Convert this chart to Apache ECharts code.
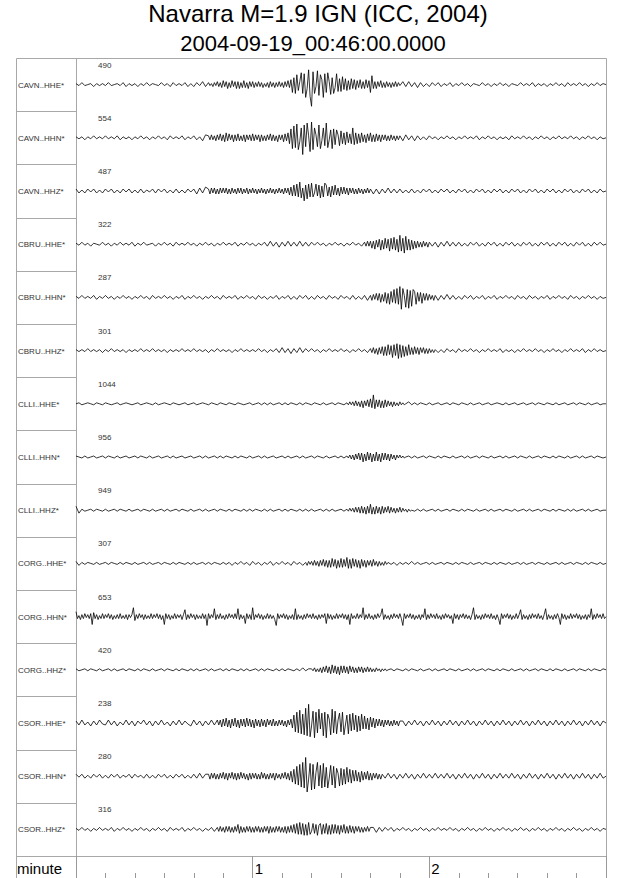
<!DOCTYPE html>
<html><head><meta charset="utf-8">
<script src="https://cdn.jsdelivr.net/npm/echarts@6/dist/echarts.min.js"></script>
<style>html,body{margin:0;padding:0;background:#fff}#c{width:640px;height:878px}</style>
</head><body><div id="c"></div>
<script>
const titleLine1 = 'Navarra M=1.9 IGN (ICC, 2004)';
const titleLine2 = '2004-09-19_00:46:00.0000';
const stations = ['CAVN..HHE*','CAVN..HHN*','CAVN..HHZ*','CBRU..HHE*','CBRU..HHN*','CBRU..HHZ*','CLLI..HHE*','CLLI..HHN*','CLLI..HHZ*','CORG..HHE*','CORG..HHN*','CORG..HHZ*','CSOR..HHE*','CSOR..HHN*','CSOR..HHZ*'];
const peakCounts = [490,554,487,322,287,301,1044,956,949,307,653,420,238,280,316];
const timeAxisName = 'minute';
const durationSec = 180;
const minuteLabels = [1,2];

// base traces: display amplitude, one sample per second over 0..180 s
const cavnHHE = [
1,-1,2,-1,0,1,-2,1,-1,1, -1,2,-1,0,1,-1,2,-2,1,-1, 1,-2,1,-1,2,-1,1,0,-1,2,
-1,1,-2,2,-1,1,-1,2,-2,1, -2,2,-1,3,-2,1,-3,2,-2,3, -3,4,-2,3,-4,3,-2,4,-3,2,
-3,2,-2,3,-2,2,-3,3,-2,2, -3,3,-4,6,-9,10,-7,12,-11,15, -22,14,-12,11,-10,13,-9,10,-12,8,
-9,11,-6,7,-5,6,-5,4,-6,5, -4,9,-7,4,-4,3,-4,3,-3,2, -3,3,-2,3,-2,2,-3,2,-2,1,
-2,2,-1,2,-2,1,-1,2,-2,1, -1,2,-1,1,-2,1,0,-1,2,-1, 1,-2,1,-1,2,-1,1,-2,1,0,
-1,2,-1,1,-1,2,-2,1,-1,1, -2,1,-1,2,-1,1,-2,2,-1,1, -1,2,-1,1,-2,1,-1,2,-1,1,0];
const cavnHHN = [
1,-1,1,-2,1,-1,2,-1,1,-1, 2,-1,1,-1,2,-2,1,-1,1,-2, 1,-1,2,-1,1,-2,1,-1,2,-1,
1,-2,2,-1,1,-1,2,-2,1,-1, 2,-2,1,-3,3,-2,4,-3,2,-4, 3,-4,5,-3,4,-3,3,-4,2,-3,
4,-3,2,-4,3,-3,4,-2,3,-3, 4,-3,3,-5,9,-12,14,-17,12,-10, 16,-11,9,-13,10,-9,15,-10,8,-9,
7,-8,6,-5,9,-7,5,-6,4,-5, 6,-4,5,-3,4,-4,3,-4,3,-3, 2,-3,3,-2,2,-3,2,-2,1,-2,
2,-1,1,-2,1,-1,2,-1,1,-2, 1,-1,2,-1,1,-1,2,-2,1,-1, 2,-1,1,-2,1,-1,1,-2,2,-1,
1,-1,2,-1,1,-2,1,-1,2,-1, 1,-2,1,-1,2,-1,1,-1,2,-1, 1,-2,1,-1,2,-1,1,-2,1,-1,0];
const cavnHHZ = [
2,-2,1,-2,2,-1,2,-2,1,-2, 2,-1,2,-2,1,-2,2,-1,2,-2, 1,-2,2,-2,1,-1,2,-2,2,-1,
2,-2,1,-2,2,-2,1,-2,2,-1, 2,-3,3,-2,4,-3,3,-4,2,-3, 3,-2,3,-3,2,-3,3,-2,3,-2,
2,-3,3,-2,3,-2,2,-3,2,-3, 3,-2,3,-4,6,-8,9,-10,6,-7, 8,-6,7,-8,5,-6,8,-5,6,-5,
5,-4,4,-3,4,-3,3,-4,3,-2, 3,-3,2,-3,2,-2,3,-2,2,-2, 2,-2,1,-2,2,-2,1,-2,2,-1,
2,-2,1,-2,2,-1,2,-2,1,-2, 2,-1,2,-2,1,-2,2,-1,2,-2, 1,-2,2,-1,2,-2,1,-2,2,-1,
2,-2,1,-2,2,-1,2,-2,1,-2, 2,-1,2,-2,1,-2,2,-1,2,-2, 1,-2,2,-1,2,-2,1,-2,2,-1,0];
const cbruHHE = [
1,-1,2,-1,1,-2,1,0,-1,2, -1,1,-2,1,-1,2,-1,1,-1,2, -2,1,-1,2,-1,0,1,-2,1,-1,
2,-1,1,-2,2,-1,1,-1,2,-1, 1,-2,1,-1,2,-1,1,-2,1,-1, 2,-1,1,-1,2,-2,1,-1,2,-1,
1,-2,1,-1,2,-2,3,-2,2,-3, 2,-2,3,-2,2,-2,3,-2,2,-2, 2,-1,2,-1,1,-2,1,-1,2,-1,
1,-2,1,-1,2,-1,1,-2,2,-1, 2,-3,4,-5,3,-6,5,-4,7,-5, 8,-9,6,-8,5,-4,3,-4,3,-2,
3,-2,2,-3,2,-2,3,-2,2,-2, 2,-2,1,-2,2,-1,2,-2,1,-2, 2,-1,2,-2,1,-2,2,-1,2,-2,
1,-2,2,-1,2,-2,1,-2,2,-1, 2,-2,1,-2,2,-1,2,-2,1,-2, 2,-1,2,-2,1,-2,2,-1,2,-1,0];
const cbruHHN = [
1,-1,2,-1,1,-1,2,-2,1,-1, 2,-1,1,-2,1,-1,2,-1,1,-2, 1,-1,2,-1,1,-2,2,-1,1,-1,
2,-1,1,-2,1,-1,2,-2,1,-1, 2,-1,1,-2,1,-1,2,-1,1,-2, 2,-1,1,-1,2,-2,1,-1,2,-1,
1,-2,2,-1,1,-2,1,-1,2,-2, 1,-1,2,-2,1,-2,2,-1,2,-2, 1,-2,2,-1,1,-2,2,-1,1,-2,
2,-1,1,-2,2,-2,1,-2,2,-3, 3,-2,4,-3,5,-4,6,-5,7,-9, 11,-12,9,-8,10,-7,5,-6,4,-3,
3,-4,2,-3,2,-2,3,-2,2,-2, 1,-2,2,-1,2,-2,1,-1,2,-2, 1,-1,2,-2,1,-1,2,-1,1,-2,
2,-1,1,-2,2,-1,1,-2,1,-1, 2,-2,1,-1,2,-1,1,-2,2,-1, 1,-2,1,-1,2,-1,1,-2,1,-1,0];
const cbruHHZ = [
1,-1,1,-1,2,-1,1,-1,1,-2, 1,-1,2,-1,1,-1,1,-2,1,-1, 1,-1,2,-1,1,-1,2,-1,1,-1,
1,-2,1,-1,1,-1,2,-1,1,-1, 2,-1,1,-1,1,-2,1,-1,2,-1, 1,-1,1,-2,1,-1,2,-1,1,-1,
1,-1,2,-1,1,-2,1,-1,2,-2, 3,-2,2,-3,2,-2,3,-2,2,-1, 2,-1,1,-2,1,-1,2,-1,1,-1,
2,-1,1,-2,1,-1,2,-1,1,-2, 2,-3,3,-4,5,-3,6,-5,7,-8, 6,-7,5,-4,5,-3,4,-3,3,-2,
2,-3,2,-2,1,-2,2,-1,1,-2, 2,-1,1,-1,2,-1,1,-2,1,-1, 2,-1,1,-1,2,-2,1,-1,1,-2,
1,-1,2,-1,1,-1,2,-1,1,-2, 1,-1,2,-1,1,-2,1,-1,2,-1, 1,-1,2,-2,1,-1,2,-1,1,-1,0];
const clliHHE = [
0,1,-1,0,1,0,-1,1,0,-1, 1,0,-1,0,1,-1,0,1,0,-1, 0,1,-1,0,1,0,-1,1,-1,0,
1,0,-1,1,0,-1,0,1,-1,0, 1,-1,0,1,0,-1,1,0,-1,1, 0,-1,1,0,-1,1,0,-1,0,1,
-1,0,1,-1,1,-1,1,-1,0,1, -1,1,-1,1,0,-1,1,-1,1,0, -1,1,0,-1,1,-1,0,1,-1,1,
0,-1,1,-1,2,-3,2,-3,4,-3, 5,9,-4,3,-5,4,-3,4,-2,3, -2,2,-1,2,-1,1,-1,1,0,-1,
1,-1,0,1,-1,0,1,-1,1,0, -1,1,0,-1,1,-1,0,1,-1,0, 1,-1,0,1,0,-1,1,-1,0,1,
-1,0,1,-1,0,1,-1,1,0,-1, 1,0,-1,1,-1,0,1,-1,0,1, -1,1,0,-1,1,-1,0,1,-1,0,0];
const clliHHN = [
1,0,-1,1,-1,0,1,-1,0,1, -1,1,0,-1,1,-1,0,1,-1,0, 1,-1,1,0,-1,1,-1,0,1,-1,
0,1,-1,1,-1,0,1,-1,0,1, -1,0,1,-1,1,-1,0,1,-1,1, -1,1,0,-1,1,-1,1,0,-1,1,
-1,0,1,-1,1,-1,0,1,-1,0, 1,-1,1,-1,0,1,-1,1,-1,0, 1,-1,1,0,-1,1,-1,0,1,-1,
1,-1,0,2,-2,3,-2,4,-3,4, -5,4,-3,5,-4,3,-5,4,-3,3, -2,2,-2,1,-1,1,-1,0,1,-1,
1,0,-1,1,-1,1,0,-1,1,-1, 0,1,-1,1,-1,0,1,-1,1,0, -1,1,-1,0,1,-1,1,-1,0,1,
-1,1,0,-1,1,-1,0,1,-1,1, 0,-1,1,-1,1,0,-1,1,-1,0, 1,-1,1,-1,0,1,-1,1,0,-1,0];
const clliHHZ = [
4,-3,1,-1,0,1,-1,1,0,-1, 1,-1,0,1,-1,1,0,-1,1,-1, 0,1,-1,1,0,-1,1,-1,0,1,
-1,1,-1,0,1,-1,1,0,-1,1, -1,0,1,-1,1,-1,0,1,-1,1, 0,-1,1,-1,1,0,-1,1,-1,1,
-1,1,0,-1,1,-1,1,-1,0,1, -1,1,-1,1,0,-1,1,-1,1,-1, 1,-1,0,1,-1,1,-1,1,-1,0,
1,-1,1,-2,2,-3,3,-2,4,-3, 6,-3,4,-4,3,-4,3,-2,4,-3, 2,-3,2,-1,2,-1,1,-1,1,-1,
0,1,-1,1,-1,0,1,-1,1,0, -1,1,-1,1,0,-1,1,-1,0,1, -1,1,-1,0,1,-1,1,0,-1,1,
-1,0,1,-1,1,-1,0,1,-1,1, 0,-1,1,-1,1,0,-1,1,-1,1, -1,0,1,-1,1,-1,0,1,-1,0,0];
const corgHHE = [
2,-2,1,-1,1,0,-1,1,-1,0, 1,-1,1,0,-1,1,-1,1,0,-1, 1,-1,0,1,-1,1,-1,0,1,-1,
1,0,-1,1,-1,1,0,-1,1,-1, 1,-1,0,1,-1,1,-1,1,0,-1, 1,-1,1,-2,1,-1,2,-1,1,-2,
2,-1,1,-2,1,-1,2,-2,1,-1, 2,-1,1,-2,2,-1,1,-2,2,-1, 2,-3,2,-4,3,-3,4,-3,5,-4,
3,-5,6,-4,5,-3,4,-5,3,-4, 3,-2,4,-2,2,-1,2,-1,1,-2, 1,-1,1,-1,2,-1,1,-1,0,1,
-1,1,-1,0,1,-1,1,0,-1,1, -1,1,0,-1,1,-1,0,1,-1,1, 0,-1,1,-1,1,0,-1,1,-1,0,
1,-1,1,-1,0,1,-1,1,0,-1, 1,-1,0,1,-1,1,-1,0,1,-1, 1,0,-1,1,-1,1,0,-1,1,-1,0];
// CORG..HHN: two samples per second (noisy channel with spikes)
const corgHHN = [
5,-2,1,-3,2,-2,3,-1,2,-2, 3,-8,4,-2,2,-3,1,-2,3,-2, 2,-1,3,-2,2,-3,1,-2,2,-2,
3,-2,1,-2,2,-3,2,-1,2,9, -4,2,-2,3,-1,2,-3,2,-2,1, -2,3,-2,2,-1,3,-2,2,-3,1,
-8,3,-2,2,-3,1,-2,3,-2,2, -1,2,-3,2,7,-3,2,-2,3,-1, 2,-3,2,-2,1,-2,3,-2,2,-9,
3,-2,2,-1,8,-3,2,-2,3,-2, 1,-3,2,-2,3,-1,2,-2,3,-2, 8,-3,2,-2,1,-7,3,-2,2,-3,
9,-3,2,-1,3,-2,2,-3,1,-2, 3,-2,2,-2,1,-3,-9,3,-2,2, -1,3,-2,2,-3,1,-2,2,-3,8,
-3,2,-2,1,-3,2,-2,3,-1,2, -2,3,-2,1,-3,2,-2,2,-1,3, -7,3,-2,2,-3,1,-2,3,-2,2,
-1,3,-2,2,-3,2,-8,3,-2,1, -2,3,-2,2,-1,9,-3,2,-2,3, -2,1,-3,2,-2,3,-1,2,8,-3,
2,-2,1,-3,2,-2,3,-1,2,-2, 3,-2,-9,3,-2,2,-1,3,-2,2, -3,1,-2,2,-3,2,-1,8,-3,2,
-2,3,-1,2,-2,3,-2,1,-3,2, -2,3,-1,2,-2,1,-7,3,-2,2, -3,2,-1,3,-2,2,-2,1,-3,2,
9,-3,2,-2,1,-3,2,-2,3,-1, 2,-2,3,-2,1,-3,2,-2,-8,3, -2,2,-1,3,-2,2,-3,1,-2,3,
-2,2,7,-3,2,-2,1,-3,2,-2, 3,-1,2,-2,3,-2,1,-3,2,8, -3,2,-2,1,-3,2,-2,3,-1,-8,
3,-2,2,-3,1,-2,3,-2,2,-1, 3,-2,2,-3,1,-2,2,-3,2,-1, 8,-3,2,-2,3,-1,2,-2,3,-2,0];
const corgHHZ = [
1,-1,0,1,-1,1,0,-1,1,-1, 0,1,-1,1,-1,0,1,-1,1,0, -1,1,-1,1,0,-1,1,-1,0,1,
-1,1,0,-1,1,-1,1,0,-1,1, -1,1,-1,0,1,-1,1,-1,0,1, -1,1,-1,1,0,-1,1,-1,1,-1,
0,1,-1,1,-1,1,0,-1,1,-1, 1,-1,1,0,-1,1,-1,2,-1,1, -2,1,-2,3,-2,4,-3,5,-3,4,
-4,3,-2,4,-3,2,-3,3,-2,3, -2,2,-1,2,-1,1,-2,1,-1,1, 0,-1,1,-1,1,0,-1,1,-1,0,
1,-1,1,-1,0,1,-1,1,0,-1, 1,-1,0,1,-1,1,-1,0,1,-1, 1,0,-1,1,-1,1,0,-1,1,-1,
0,1,-1,1,-1,0,1,-1,1,0, -1,1,-1,1,0,-1,1,-1,0,1, -1,1,0,-1,1,-1,1,0,-1,1,0];
const csorHHE = [
2,-2,3,-2,1,-3,2,-2,3,-1, -2,3,-2,2,-3,1,-2,3,-2,2, -3,2,-1,3,-2,2,-3,2,-2,3,
-2,1,-3,2,-2,3,-2,2,-1,-3, 3,-2,2,-3,2,-2,3,-2,2,-3, 3,-4,5,-3,4,-5,3,-4,5,-4,
4,-3,5,-4,3,-4,4,-3,2,-3, 3,-2,3,-4,2,8,-11,13,-9,19, -14,12,-10,11,-15,9,-12,14,-8,10,
-11,12,-9,8,-10,11,-7,9,-8,6, -5,7,-4,3,-5,4,-3,4,-2,3, -3,2,-3,2,-2,3,-2,2,-3,2,
-2,3,-2,2,-3,2,-2,3,-2,2, -3,2,-2,3,-2,2,-3,2,-2,3, -2,2,-3,2,-2,3,-2,2,-3,2,
-2,3,-2,2,-3,2,-2,3,-2,2, -3,2,-2,3,-2,2,-3,2,-2,3, -2,2,-3,2,-2,3,-2,2,-3,2,0];
const csorHHN = [
2,-1,2,-2,1,-2,2,-1,2,-2, 1,-2,2,-1,2,-2,1,-1,2,-2, 2,-1,1,-2,2,-2,1,-2,2,-1,
2,-2,1,-2,2,-1,2,-2,1,-2, 2,-2,3,-2,2,-3,2,-2,4,-3, 3,-2,3,-4,2,-3,3,-2,3,-3,
2,-3,3,-2,3,-3,2,-3,3,-2, 3,-2,3,-3,2,-5,9,-12,19,-16, 14,-12,13,-10,12,-11,9,-12,10,-8,
9,-10,7,-8,6,-7,5,-4,5,-3, 4,-3,3,-4,3,-2,3,-2,2,-3, 2,-2,3,-2,2,-3,2,-2,3,-2,
2,-2,3,-2,2,-2,3,-2,2,-3, 2,-2,3,-2,2,-3,2,-2,3,-2, 2,-3,2,-2,3,-2,2,-2,3,-2,
2,-3,2,-2,3,-2,2,-3,2,-2, 3,-2,2,-3,2,-2,3,-2,2,-3, 2,-2,3,-2,2,-3,2,-2,3,-2,0];
const csorHHZ = [
1,-1,2,-1,1,-2,1,-1,2,-1, 1,-1,2,-2,1,-1,2,-1,1,-2, 1,-1,2,-1,1,-2,1,-1,2,-1,
1,-2,2,-1,1,-1,2,-2,1,-1, 2,-1,1,-2,1,-1,2,-2,2,-1, 2,-3,3,-2,3,5,-4,3,-3,2,
-3,3,-2,3,-3,2,-3,4,-3,2, -3,3,-2,3,-4,5,-6,7,-5,6, -5,4,-6,5,-4,6,-5,4,-3,5,
-4,5,-3,4,-3,2,-3,2,-2,3, -2,2,-3,2,-2,2,-1,2,-2,1, -1,2,-1,1,-2,1,-1,2,-1,1,
-2,1,-1,2,-1,1,-1,2,-1,1, -2,1,-1,2,-1,1,-2,1,-1,2, -1,1,-2,1,-1,2,-1,1,-2,1,
-1,2,-1,1,-2,1,-1,2,-1,1, -2,1,-1,2,-1,1,-2,1,-1,2, -1,1,-2,1,-1,2,-1,1,-2,1,0];

// event windows read at two samples per second (start s, end s, values)
const cavnHHE_event = [45, 110, [
2,-1,1,-2,2,-1,3,-2,2,-3, 4,-2,3,-4,2,-3,4,-2,3,-4, 3,-4,2,-3,4,-3,2,-4,3,-2,
3,-3,2,-2,3,-2,2,-3,1,-2, 2,-3,3,-2,2,-3,2,-2,3,-2, 2,-3,3,-2,4,-3,5,-8,7,-9,
10,-6,3,12,-9,11,-13,-4,15,-12, -22,13,-9,-2,14,-11,10,5,-13,11, -8,12,3,-10,7,-9,-3,11,-7,6,
-7,8,-5,6,-6,4,-5,6,-4,5, -5,4,-3,5,-4,3,-4,5,-3,4, -8,9,-4,3,-4,3,-2,4,-3,2,
-3,3,-2,2,-3,2,-2,3,-2,2, -1]];
const cavnHHN_event = [45, 110, [
2,-2,3,-2,2,-3,3,-2,4,-3, 3,-4,5,-3,4,-2,3,-4,3,-3, 4,-3,2,-3,3,-4,3,-2,3,-3,
4,-3,3,-2,3,-4,3,-3,2,-3, 3,-2,4,-3,3,-3,2,-4,3,-2, 3,-4,4,-3,5,-6,9,-11,12,-10,
14,-12,-4,10,-17,13,-9,15,2,-14, 16,-12,10,3,-9,13,-11,-3,10,-8, 15,-10,-2,8,-11,9,-7,8,3,-8,
7,-6,5,-7,6,-5,4,-6,10,-7, 5,-6,4,-5,5,-4,3,-5,4,-3, 5,-4,3,-4,4,-3,3,-4,3,-2,
3,-3,2,-3,3,-2,2,-3,2,-2, 2]];
const cavnHHZ_event = [45, 100, [
2,-3,3,-2,3,-3,2,-3,3,-2, 3,-2,3,-3,2,-3,3,-2,2,-3, 3,-2,3,-3,2,-2,3,-3,2,-2,
3,-2,2,-3,2,-2,3,-2,2,-3, 2,-2,3,-2,2,-3,2,-2,3,-2, 2,-3,3,-2,3,-4,4,-5,6,-5,
7,-6,9,-7,3,-10,6,-8,7,-6, 8,-6,-2,7,-5,6,-7,5,-6,8, 6,-5,4,-6,5,-4,6,-4,3,-5,
4,-3,4,-3,3,-4,3,-2,3,-3, 2,-3,3,-2,2,-3,2,-2,3,-2, 2]];
const cbruHHE_event = [98, 120, [
2,-2,3,-2,3,-4,3,-5,4,-3, 5,-6,4,-5,6,-4,5,-7,6,-5, 7,-6,5,-8,9,-7,6,-9,8,-6,
5,-6,4,-5,3,-4,3,-3,2,-3, 3,-2,2,-3, 2]];
const cbruHHN_event = [100, 122, [
2,-3,3,-2,4,-3,4,-5,3,-4, 5,-6,4,-7,6,-5,8,-6,9,-7, 11,-12,9,2,-10,8,-11,7,-9,8,
6,-7,5,-4,5,-6,4,-3,4,-3, 3,-2,2,-3, 2]];
const cbruHHZ_event = [100, 122, [
2,-2,3,-3,2,-4,3,-3,4,-5, 4,-5,6,-4,5,-7,6,-5,7,-8, 6,-7,5,-6,4,-5,6,-4,3,-4,
4,-3,3,-4,3,-2,3,-3,2,-3, 2,-2,1,-2, 1]];
const clliHHE_event = [92, 112, [
1,-1,2,-1,2,-2,3,-2,2,-3, 3,-4,3,-2,4,-3,5,-4,9,-5, 4,-3,4,-4,3,-4,4,-3,3,-2,
2,-3,2,-2,1,-2,2,-1,1,-1, 0]];
const clliHHN_event = [92, 112, [
1,-1,2,-2,2,-3,3,-2,4,-3, 4,-5,3,-4,5,-3,4,-5,3,-4, 5,-4,3,-5,4,-3,4,-3,3,-4,
3,-2,2,-3,2,-1,2,-1,1,-1, 0]];
const clliHHZ_event = [92, 114, [
1,-1,2,-1,2,-2,3,-2,3,-3, 4,-3,3,-4,4,-3,6,-4,3,-4, 4,-3,3,-4,4,-3,3,-2,4,-3,
3,-2,2,-3,2,-2,3,-2,2,-1, 1,-2,1,-1, 0]];
const corgHHE_event = [78, 106, [
1,-2,2,-1,2,-2,3,-2,2,-3, 3,-2,4,-3,3,-4,3,-4,5,-3, 4,-5,3,-4,5,-4,4,-3,6,-5,
4,-5,5,-3,4,-4,3,-5,4,-3, 3,-4,3,-2,3,-3,4,-2,2,-3, 2,-2,1,-2,2,-1, 1]];
const corgHHZ_event = [80, 106, [
1,-1,2,-2,1,-2,2,-3,3,-2, 4,-3,3,-4,5,-3,4,-4,3,-5, 4,-3,4,-3,3,-4,4,-2,3,-3,
2,-3,3,-2,3,-3,2,-2,3,-2, 2,-2,1,-2,2,-1,1,-2,1,-1, 1,-1, 0]];
const csorHHE_event = [48, 110, [
3,-2,3,-4,4,-3,5,-4,3,-5, 4,-3,5,-4,3,-5,4,-3,4,-4, 5,-3,4,-4,3,-5,4,-3,3,-4,
4,-3,3,-4,4,-2,3,-3,4,-3, 2,-3,3,-2,3,-3,2,-4,3,-2, 4,-5,8,-9,11,-10,13,-11,9,-12,
15,-13,19,-14,-3,12,-15,11,-10,14, -6,10,-13,11,-15,9,4,-12,14,-10, 12,-11,3,10,-9,11,-12,-2,8,-11,
9,-8,10,-7,8,-9,7,-8,9,-6, 7,-6,5,-7,6,-4,5,-5,4,-3, 4,-3,3,-4,3,-2,3,-3,2,-3,
3,-2,2,-3, 2]];
const csorHHN_event = [45, 104, [
2,-3,3,-2,3,-3,2,-3,3,-2, 4,-3,3,-4,3,-2,4,-3,3,-4, 3,-3,4,-2,3,-3,2,-4,3,-3,
3,-2,3,-3,2,-3,4,-2,3,-3, 2,-3,3,-2,3,-4,3,-2,2,-3, 3,-2,4,-3,3,-4,5,-6,7,-8,
10,-9,12,-11,14,-12,19,-16,-3,13, -14,12,-13,4,14,-10,11,-12,13,-11, 9,-12,-2,11,-9,10,-12,8,3,-10,
8,-9,7,-8,9,-6,7,-7,6,-5, 6,-5,4,-6,5,-4,4,-3,5,-4, 3,-4,3,-2,3,-3,2,-3, 2]];
const csorHHZ_event = [48, 100, [
2,-2,3,-2,2,-3,3,-2,3,-3, 2,-3,3,-2,5,-4,3,-3,2,-3, 3,-2,3,-3,2,-3,3,-2,3,-3,
2,-3,3,-2,3,-4,3,-3,2,-3, 3,-2,3,-3,2,-3,3,-4,3,-3, 4,-3,5,-4,6,-5,7,-5,6,-6,
5,-6,7,-5,-2,6,-4,5,-6,4, 6,-5,5,-4,6,-5,4,-5,5,-4, 5,-4,4,-5,4,-3,5,-4,3,-4,
4,-3,3,-4,3,-2,3,-3,2,-3, 2,-2,3,-2, 2]];

const traces = [cavnHHE,cavnHHN,cavnHHZ,cbruHHE,cbruHHN,cbruHHZ,clliHHE,clliHHN,clliHHZ,corgHHE,corgHHN,corgHHZ,csorHHE,csorHHN,csorHHZ];
const events = [cavnHHE_event,cavnHHN_event,cavnHHZ_event,cbruHHE_event,cbruHHN_event,cbruHHZ_event,clliHHE_event,clliHHN_event,clliHHZ_event,corgHHE_event,null,corgHHZ_event,csorHHE_event,csorHHN_event,csorHHZ_event];

function buildTrace(base, ev) {
  const pts = [];
  const step = durationSec / (base.length - 1);
  base.forEach((v, k) => {
    const t = k * step;
    if (!ev || t < ev[0] || t > ev[1]) pts.push([t, v]);
  });
  if (ev) {
    const vals = ev[2], s = (ev[1] - ev[0]) / (vals.length - 1);
    vals.forEach((v, k) => pts.push([ev[0] + k * s, v]));
  }
  pts.sort((a, b) => a[0] - b[0]);
  return pts;
}

// layout
const FONT = "'Liberation Sans', Arial, Helvetica, sans-serif";
const FRAME_L = 16, FRAME_R = 606, DIV_X = 76, TOP = 58, ROW_H = 53.2, BOTTOM = 878;
const FRAME_COLOR = '#a8a8a8';
const AMP = 27;

const grids = [], xAxes = [], yAxes = [], series = [], graphic = [];
traces.forEach((arr, i) => {
  grids.push({left: DIV_X, width: FRAME_R - DIV_X, top: TOP + i * ROW_H, height: ROW_H});
  xAxes.push({gridIndex: i, type: 'value', min: 0, max: durationSec, show: false});
  yAxes.push({gridIndex: i, type: 'value', min: -AMP, max: AMP, show: false});
  series.push({
    type: 'line', xAxisIndex: i, yAxisIndex: i, symbol: 'none', silent: true,
    data: buildTrace(arr, events[i]),
    lineStyle: {width: 0.8, color: '#000'}
  });
});
const axisTop = TOP + traces.length * ROW_H;
const gi = traces.length;
grids.push({left: DIV_X, width: FRAME_R - DIV_X, top: axisTop, height: BOTTOM - axisTop});
yAxes.push({gridIndex: gi, type: 'value', min: 0, max: 1, show: false});
xAxes.push({gridIndex: gi, type: 'value', min: 0, max: durationSec, interval: 10, position: 'bottom',
  axisLine: {show: false}, axisTick: {show: true, inside: true, length: 5, lineStyle: {color: '#999'}},
  axisLabel: {show: false}, splitLine: {show: false}});
xAxes.push({gridIndex: gi, type: 'value', min: 0, max: durationSec, interval: 60, position: 'bottom', offset: 0,
  axisLine: {show: false}, axisTick: {show: true, inside: true, length: BOTTOM - axisTop, lineStyle: {color: '#999'}},
  axisLabel: {show: true, inside: true, margin: 2, align: 'left', verticalAlign: 'bottom', padding: [0, 0, 0, 2],
    fontSize: 15, fontFamily: FONT, color: '#000',
    formatter: v => minuteLabels.includes(v / 60) ? String(v / 60) : ''},
  splitLine: {show: false}});

// frame
graphic.push({type: 'rect', silent: true, shape: {x: FRAME_L + 0.5, y: TOP + 0.5, width: FRAME_R - FRAME_L, height: BOTTOM - TOP + 2},
  style: {fill: 'none', stroke: FRAME_COLOR, lineWidth: 1}});
graphic.push({type: 'line', silent: true, shape: {x1: DIV_X + 0.5, y1: TOP, x2: DIV_X + 0.5, y2: BOTTOM}, style: {stroke: FRAME_COLOR, lineWidth: 1}});
for (let k = 1; k <= traces.length; k++) {
  const y = Math.round(TOP + k * ROW_H) + 0.5;
  graphic.push({type: 'line', silent: true, shape: {x1: FRAME_L, y1: y, x2: k === traces.length ? FRAME_R : DIV_X, y2: y},
    style: {stroke: FRAME_COLOR, lineWidth: 1}});
}
stations.forEach((s, i) => {
  const top = TOP + i * ROW_H;
  graphic.push({type: 'text', silent: true, x: FRAME_L + 2, y: top + 27,
    style: {text: s, fontSize: 8, fontFamily: FONT, fill: '#333', verticalAlign: 'middle'}});
  graphic.push({type: 'text', silent: true, x: 98, y: top + 7,
    style: {text: String(peakCounts[i]), fontSize: 8, fontFamily: FONT, fill: '#333', verticalAlign: 'middle'}});
});
graphic.push({type: 'text', silent: true, x: FRAME_L + 1, y: (axisTop + BOTTOM) / 2 + 1,
  style: {text: timeAxisName, fontSize: 15, fontFamily: FONT, fill: '#000', verticalAlign: 'middle'}});
graphic.push({type: 'text', silent: true, x: 318, y: 13,
  style: {text: titleLine1, fontSize: 24, fontFamily: FONT, fill: '#000', align: 'center', verticalAlign: 'middle'}});
graphic.push({type: 'text', silent: true, x: 313, y: 43,
  style: {text: titleLine2, fontSize: 22, fontFamily: FONT, fill: '#000', align: 'center', verticalAlign: 'middle'}});

const chart = echarts.init(document.getElementById('c'), null, {renderer: 'svg'});
chart.setOption({animation: false, backgroundColor: '#fff', grid: grids, xAxis: xAxes, yAxis: yAxes, series: series, graphic: graphic});
</script></body></html>
